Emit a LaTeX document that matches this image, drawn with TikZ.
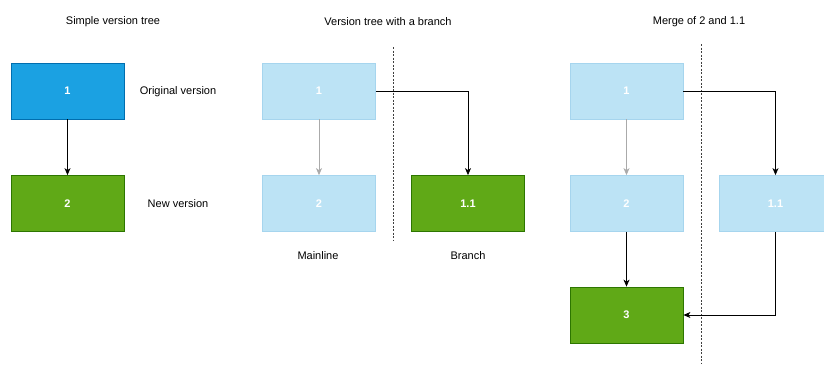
\documentclass[tikz,border=0pt]{standalone}
\usepackage{fontspec}
\setmainfont{Liberation Sans}
\usetikzlibrary{arrows.meta}
\definecolor{vblue}{HTML}{1BA1E2}
\definecolor{vblueline}{HTML}{006EAF}
\definecolor{vgreen}{HTML}{60A917}
\definecolor{vgreenline}{HTML}{2D7600}
\definecolor{vfaded}{HTML}{BCE3F5}
\definecolor{vfadedline}{HTML}{A6D5EE}
\definecolor{vgrey}{HTML}{AAAAAA}
\tikzset{
  version/.style={rectangle, minimum width=113pt, minimum height=56pt, inner sep=0pt,
    text=white, font=\fontsize{11}{13}\selectfont\bfseries, line width=0.8pt},
  current/.style={version, fill=vblue, draw=vblueline},
  newer/.style={version, fill=vgreen, draw=vgreenline},
  faded/.style={version, fill=vfaded, draw=vfadedline},
  caption/.style={font=\fontsize{11}{13}\selectfont, text=black, inner sep=0pt},
  link/.style={-{Stealth[length=7pt,width=6pt,inset=2pt]}, line width=0.8pt},
  fadedlink/.style={link, draw=vgrey},
  divider/.style={line width=0.8pt, dash pattern=on 2pt off 1.5pt, draw=black!75},
}
\begin{document}
\begin{tikzpicture}[x=1pt, y=-1pt]
\clip (0,0) rectangle (824,365);
\fill[white] (0,0) rectangle (824,365);

% Simple version tree
\node[caption] (t1) at (113,22) {Simple version tree};
\node[current] (a1) at (67.5,91) {1};
\node[newer] (a2) at (67.5,203.5) {2};
\node[caption] (l1) at (178,92) {Original version};
\node[caption] (l2) at (178,203.5) {New version};
\draw[link] (a1) -- (a2);

% Version tree with a branch
\node[caption] (t2) at (388,22) {Version tree with a branch};
\coordinate (d2top) at (393,47);
\coordinate (d2bot) at (393,241);
\draw[divider] (d2top) -- (d2bot);
\node[faded] (b1) at (319,91) {1};
\node[faded] (b2) at (319,203.5) {2};
\node[newer] (b11) at (468,203.5) {1.1};
\node[caption] (mainline) at (318,256) {Mainline};
\node[caption] (branch) at (468,256) {Branch};
\draw[fadedlink] (b1) -- (b2);
\draw[link] (b1.east) -| (b11.north);

% Merge of 2 and 1.1
\node[caption] (t3) at (699,22) {Merge of 2 and 1.1};
\coordinate (d3top) at (701,44);
\coordinate (d3bot) at (701,364);
\draw[divider] (d3top) -- (d3bot);
\node[faded] (c1) at (626.5,91) {1};
\node[faded] (c2) at (626.5,203.5) {2};
\node[faded] (c11) at (775.5,203.5) {1.1};
\node[newer] (c3) at (626.5,315) {3};
\draw[fadedlink] (c1) -- (c2);
\draw[link] (c1.east) -| (c11.north);
\draw[link] (c2) -- (c3);
\draw[link] (c11.south) |- (c3.east);
\end{tikzpicture}
\end{document}
